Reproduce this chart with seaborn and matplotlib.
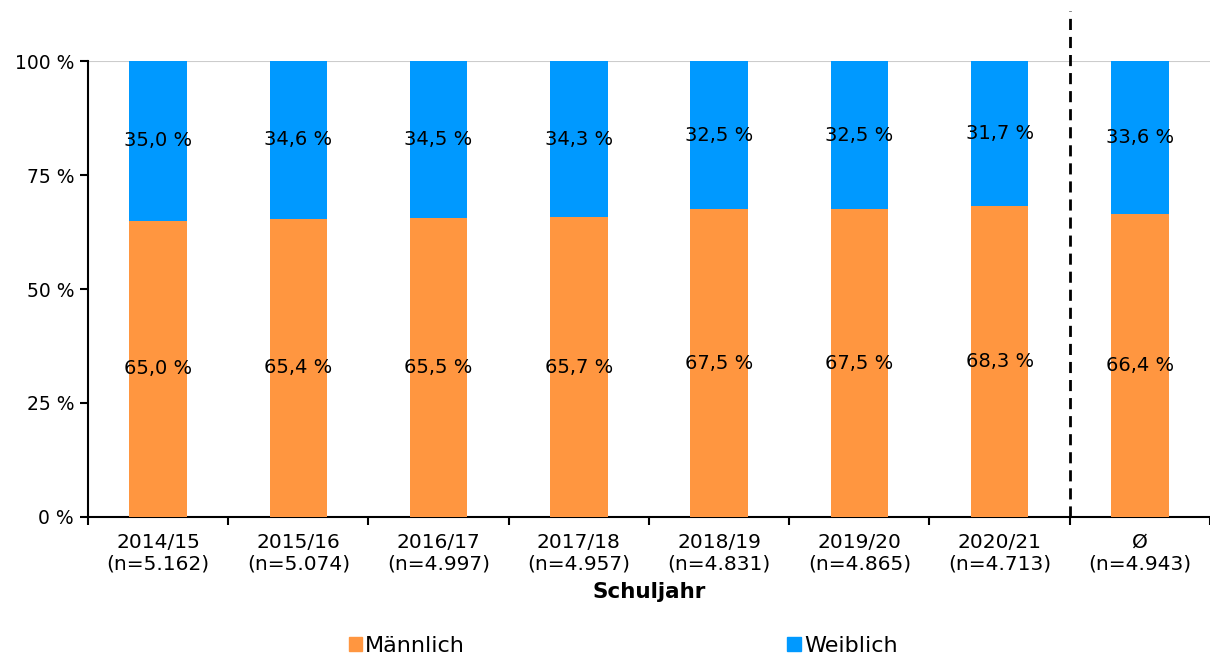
import numpy as np
import pandas as pd
import matplotlib
matplotlib.use("Agg")
import matplotlib.pyplot as plt
import seaborn as sns
from matplotlib.patches import Patch

# data
jahre = ["2014/15", "2015/16", "2016/17", "2017/18", "2018/19", "2019/20", "2020/21", "Ø"]
n_werte = ["5.162", "5.074", "4.997", "4.957", "4.831", "4.865", "4.713", "4.943"]
maennlich = [65.0, 65.4, 65.5, 65.7, 67.5, 67.5, 68.3, 66.4]
weiblich = [35.0, 34.6, 34.5, 34.3, 32.5, 32.5, 31.7, 33.6]

orange = "#FF9640"
blau = "#0099FF"

sns.set_style("white")
plt.rcParams["font.family"] = ["DejaVu Sans"]
plt.rcParams["text.color"] = "black"
plt.rcParams["xtick.color"] = "black"
plt.rcParams["ytick.color"] = "black"
plt.rcParams["axes.labelcolor"] = "black"

labels = [f"{j}\n(n={n})" for j, n in zip(jahre, n_werte)]
df = pd.DataFrame({"Schuljahr": labels, "Männlich": maennlich, "Weiblich": weiblich})
df["Gesamt"] = df["Männlich"] + df["Weiblich"]

fig = plt.figure(figsize=(12.1, 6.59), dpi=100)
ax = fig.add_axes([0.0727, 0.2155, 0.9273, 0.6919])

ax.axhline(100, color="#cccccc", lw=1.5, zorder=0)
sns.barplot(data=df, x="Schuljahr", y="Gesamt", color=blau, width=0.41, saturation=1,
            linewidth=0, ax=ax, zorder=2)
sns.barplot(data=df, x="Schuljahr", y="Männlich", color=orange, width=0.41, saturation=1,
            linewidth=0, ax=ax, zorder=3)

# percent labels in the middle of each segment
for i in range(len(jahre)):
    m = maennlich[i]
    w = weiblich[i]
    ax.text(i, m / 2, f"{m:.1f} %".replace(".", ","), ha="center", va="center", fontsize=14, zorder=5)
    ax.text(i, m + w / 2, f"{w:.1f} %".replace(".", ","), ha="center", va="center", fontsize=14, zorder=5)

ax.set_xlim(-0.5, len(jahre) - 0.5)
ax.set_ylim(0, 100)
ax.set_yticks([0, 25, 50, 75, 100])
ax.set_yticklabels(["0 %", "25 %", "50 %", "75 %", "100 %"], fontsize=13.5)
ax.tick_params(axis="y", left=True, length=6, width=1.5, pad=4)
ax.tick_params(axis="x", bottom=False, labelsize=14.5, pad=8)
ax.set_xticks(np.arange(-0.5, len(jahre)), minor=True)
ax.tick_params(axis="x", which="minor", bottom=True, length=6, width=1.5)

for s in ["top", "right"]:
    ax.spines[s].set_visible(False)
for s in ["left", "bottom"]:
    ax.spines[s].set_color("black")
    ax.spines[s].set_linewidth(1.5)

# dashed separator before the average
ax.plot([6.5, 6.5], [0, 111], color="black", lw=2, ls=(0, (4, 2.5)), clip_on=False, zorder=6)

ax.set_xlabel("Schuljahr", fontsize=15.5, fontweight="bold", labelpad=6)
ax.set_ylabel("")

handles = [Patch(color=orange, label="Männlich"), Patch(color=blau, label="Weiblich")]
fig.legend(handles=handles, loc="center", bbox_to_anchor=(0.515, 0.02), ncol=2, frameon=False,
           fontsize=16, handlelength=0.6, handleheight=0.6, handletextpad=0.15, columnspacing=14.5)

fig.savefig("out.png", dpi=100)
